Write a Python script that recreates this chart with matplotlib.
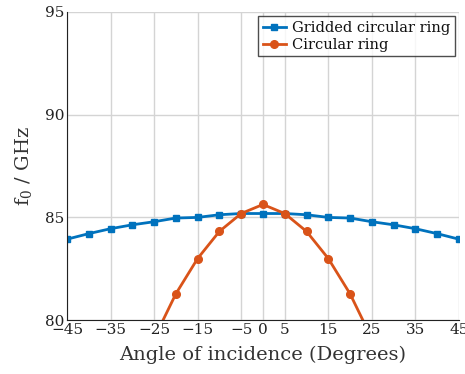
import matplotlib
matplotlib.use("Agg")
import matplotlib.pyplot as plt

angles_grid = [-45, -40, -35, -30, -25, -20, -15, -10, -5, 0, 5, 10, 15, 20, 25, 30, 35, 40, 45]
f_grid = [83.94, 84.21, 84.45, 84.64, 84.79, 84.97, 85.0, 85.13, 85.19, 85.19, 85.19, 85.13, 85.0, 84.97, 84.79, 84.64, 84.45, 84.21, 83.94]
angles_ring = [-25, -20, -15, -10, -5, 0, 5, 10, 15, 20, 25]
f_ring = [79.1, 81.28, 83.0, 84.32, 85.19, 85.63, 85.19, 84.32, 83.0, 81.28, 79.1]
xticks = [-45, -35, -25, -15, -5, 0, 5, 15, 25, 35, 45]
yticks = [80, 85, 90, 95]

plt.rcParams['font.family'] = ['DejaVu Serif']
plt.rcParams['mathtext.fontset'] = 'dejavuserif'

fig = plt.figure(figsize=(4.65, 3.74), dpi=100)
ax = fig.add_axes([0.144, 0.144, 0.843, 0.824])

ax.plot(angles_grid, f_grid, '-s', color='#0072BD', lw=2, ms=5, label='Gridded circular ring')
ax.plot(angles_ring, f_ring, '-o', color='#D95319', lw=2, ms=5.5, label='Circular ring')

ax.set_xlim(-45, 45)
ax.set_ylim(80, 95)
ax.set_xticks(xticks)
ax.set_xticklabels([str(t).replace('-', '\u2212') for t in xticks])
ax.set_yticks(yticks)
ax.grid(True, color='#d4d4d4', lw=1)
ax.set_axisbelow(True)
for s in ['top', 'right']:
    ax.spines[s].set_visible(False)
for s in ['left', 'bottom']:
    ax.spines[s].set_color('#222222')
ax.tick_params(direction='in', length=0, labelsize=11, colors='#222222', pad=2)
ax.set_xlabel('Angle of incidence (Degrees)', fontsize=14, color='#333333', labelpad=6)
ax.set_ylabel('f$_0$ / GHz', fontsize=14, color='#333333', labelpad=8)

leg = ax.legend(loc='upper right', fontsize=10.5, frameon=True, fancybox=False,
                edgecolor='#222222', borderpad=0.3, labelspacing=0.2,
                handlelength=1.6, handletextpad=0.4, borderaxespad=0.3)
leg.get_frame().set_linewidth(1)
for t in leg.get_texts():
    t.set_color('#111111')

fig.savefig('out.png', dpi=100)
